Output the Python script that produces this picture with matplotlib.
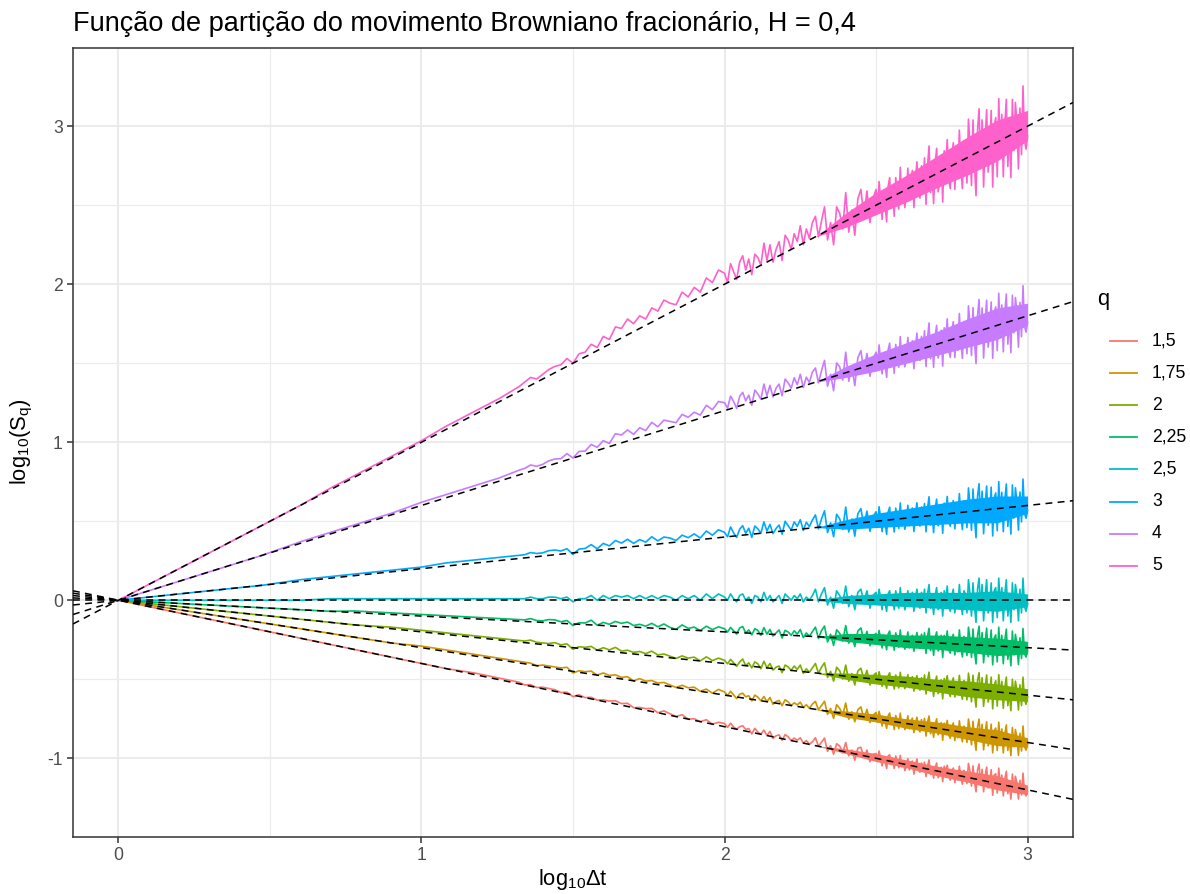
import numpy as np
import matplotlib
matplotlib.use("Agg")
import matplotlib.pyplot as plt
from matplotlib.lines import Line2D

plt.rcParams['font.family'] = ['Liberation Sans', 'DejaVu Sans']
plt.rcParams['mathtext.fontset'] = 'custom'
plt.rcParams['mathtext.rm'] = 'Liberation Sans'
plt.rcParams['mathtext.it'] = 'Liberation Sans:italic'
plt.rcParams['axes.unicode_minus'] = False

# ---------------------------------------------------------------------------
# Data: partition function log10(S_q) against log10(dt) for several moments q
# ---------------------------------------------------------------------------
q_labels = ["1,5", "1,75", "2", "2,25", "2,5", "3", "4", "5"]
q_colors = ["#F8766D", "#CD9600", "#7CAE00", "#00BE67",
            "#00BFC4", "#00A9FF", "#C77CFF", "#FF61CC"]
# fitted scaling exponents tau(q) (slopes of the dashed lines)
tau = [-0.4, -0.3, -0.2, -0.1, 0.0, 0.2, 0.6, 1.0]

# sampled lags: small integer lags, then progressively finer steps in log10(dt)
dt_early = [1, 2, 3, 4, 5, 6, 8, 10, 12, 15, 18, 21]
log_dt = np.concatenate([
    np.log10(dt_early),
    np.round(np.arange(1.34, 1.99, 0.02), 2),
    np.round(np.arange(2.00, 2.495, 0.01), 2),
    np.round(np.arange(2.50, 3.0025, 0.005), 3),
])

# deviations of log10(S_q) from the fitted line, in hundredths of a decade
r_q150 = [0, 0, 0, 0, 0, 0, 0, 0, 0, 1, 1, 1,
          0, 1, 0, 1, 1, 1, 0, 1, -1, 1, 0, 1, 0, 1, 1, 2, 1, 2, 0, 1,
          1, 2, 0, 2, 1, 0, 2, 0, 1, 0, 2, 0, 2,
          2, 0, 3, 1, 0, 2, 3, 1, 2, -1,
          3, 1, 0, 3, 0, 3, -1, 1, 2, -1,
          3, 2, 0, 2, 1, 3, 0, 2, 0, 2,
          5, 0, 3, 6, -2, 2, -3, 4, 3, -1,
          6, -2, 2, -4, 4, 5, -1, 4, -3, 2,
          3, -2, 5, 1, -4, 2, -1, -5, 3, 4,
          -2, 2, -4, 4, 1, -3, 5, -2, 2, -4,
          -1, 4, -3, 2, 3, -5, 1, 5, -2, -3,
          3, -1, 4, -5, 2, 6, -3, 1, -5, 2,
          5, -4, -2, 3, -6, 4, 1, 5, -2, -4,
          2, 4, -5, 1, -3, 6, -1, -5, 4, 2,
          -4, 9, 4, -5, 8, -2, -8, 6, 10, -3,
          7, -7, 3, 9, -4, -1, 8, -8, 5, 6,
          -6, 10, -2, 6, -7, 4, 9, -5, 2, -8,
          8, -3, 7, 3, -7, 5, -4, 10, -2, -4,
          -1]
r_q175 = [0, 0, 0, 0, 0, 0, 0, 1, 1, 1, 1, 1,
          1, 1, 0, 1, 1, 1, 1, 2, -1, 1, 1, 2, 0, 2, 1, 2, 1, 2, 0, 2,
          1, 2, 1, 2, 1, 0, 2, 1, 2, 0, 2, 0, 3,
          2, 0, 3, 1, -1, 2, 3, 1, 2, -1,
          3, 2, 0, 3, 0, 3, -1, 1, 2, -1,
          3, 2, 0, 2, 1, 3, 0, 2, 0, 3,
          5, 0, 3, 6, -2, 2, -4, 5, 3, -1,
          7, -3, 2, -4, 4, 6, -1, 5, -3, 2,
          4, -2, 5, 1, -4, 2, -1, -5, 3, 5,
          -2, 2, -5, 4, 1, -4, 6, -2, 2, -4,
          -1, 5, -3, 2, 4, -5, 1, 5, -2, -4,
          4, -1, 5, -6, 3, 7, -4, 1, -6, 2,
          6, -4, -2, 4, -7, 4, 1, 6, -3, -5,
          2, 5, -6, 1, -4, 7, -1, -6, 4, 3,
          -6, 9, 3, -7, 8, -3, -10, 5, 10, -4,
          7, -9, 2, 9, -6, -2, 8, -10, 4, 6,
          -8, 10, -3, 6, -9, 3, 9, -7, 1, -10,
          8, -4, 7, 2, -9, 5, -6, 10, -3, -5,
          -1]
r_q200 = [0, 0, 0, 0, 0, 0, 1, 1, 1, 1, 1, 1,
          1, 2, 1, 1, 1, 2, 1, 2, -1, 1, 1, 2, 0, 2, 1, 3, 1, 2, 1, 2,
          1, 3, 1, 2, 1, 0, 2, 1, 2, 0, 3, 1, 3,
          2, 0, 3, 1, -1, 2, 4, 0, 2, -1,
          3, 2, -1, 4, 0, 3, -1, 1, 2, -2,
          3, 2, 0, 3, 1, 4, -1, 2, 0, 3,
          6, 0, 4, 7, -2, 2, -4, 5, 3, -2,
          7, -3, 2, -5, 4, 6, -1, 5, -4, 2,
          4, -2, 5, 1, -4, 2, -1, -5, 3, 5,
          -2, 2, -5, 4, 1, -4, 6, -2, 2, -4,
          -1, 5, -3, 2, 4, -5, 1, 5, -2, -4,
          4, -1, 6, -6, 3, 8, -4, 2, -7, 2,
          6, -5, -2, 4, -8, 5, 1, 7, -3, -6,
          2, 6, -6, 2, -4, 8, -2, -7, 5, 3,
          -7, 10, 3, -8, 9, -3, -11, 6, 11, -4,
          8, -10, 2, 10, -7, -2, 9, -11, 4, 7,
          -9, 11, -3, 7, -10, 3, 10, -8, 1, -11,
          9, -4, 8, 2, -10, 6, -7, 11, -3, -6,
          -1]
r_q225 = [0, 0, 0, 0, 0, 1, 1, 1, 1, 1, 1, 1,
          1, 2, 1, 1, 2, 2, 1, 2, -1, 1, 1, 3, 0, 2, 1, 3, 2, 3, 1, 2,
          1, 3, 1, 3, 1, 0, 3, 1, 2, 0, 3, 1, 3,
          2, 0, 3, 1, -1, 3, 4, 0, 2, -1,
          3, 2, -1, 4, 0, 3, -1, 1, 3, -2,
          3, 2, 0, 3, 1, 4, -1, 2, 0, 3,
          6, -1, 4, 7, -3, 2, -5, 5, 3, -2,
          8, -3, 2, -5, 5, 7, -1, 5, -4, 2,
          4, -2, 6, 1, -5, 3, -1, -6, 4, 6,
          -3, 2, -6, 5, 1, -4, 7, -2, 3, -5,
          -1, 6, -4, 2, 4, -6, 1, 6, -3, -4,
          5, -1, 6, -7, 4, 9, -5, 2, -8, 3,
          7, -5, -3, 5, -9, 5, 1, 8, -4, -6,
          3, 6, -7, 2, -5, 9, -2, -8, 5, 4,
          -7, 11, 4, -8, 10, -4, -12, 6, 12, -5,
          8, -11, 2, 11, -7, -2, 10, -12, 5, 7,
          -10, 12, -4, 7, -11, 4, 11, -8, 1, -12,
          10, -5, 8, 2, -11, 6, -7, 12, -4, -6,
          -2]
r_q250 = [0, 0, 0, 0, 1, 1, 1, 1, 1, 1, 1, 1,
          1, 2, 1, 1, 2, 2, 1, 2, -1, 1, 1, 3, 0, 3, 1, 3, 2, 3, 1, 3,
          1, 3, 1, 3, 2, 0, 3, 1, 3, 0, 4, 1, 4,
          2, 0, 4, 1, -1, 3, 4, 0, 2, -2,
          3, 2, -1, 5, 0, 3, -1, 1, 3, -2,
          4, 2, 0, 3, 1, 4, -1, 2, 0, 3,
          7, -1, 4, 8, -3, 2, -5, 6, 3, -2,
          9, -4, 3, -6, 5, 7, -1, 6, -5, 3,
          5, -2, 7, 2, -6, 3, -2, -7, 4, 6,
          -3, 2, -6, 6, 1, -5, 8, -2, 3, -6,
          -2, 6, -4, 2, 5, -7, 2, 7, -3, -5,
          5, -1, 7, -8, 4, 10, -5, 2, -9, 3,
          8, -6, -3, 5, -10, 6, 1, 9, -4, -7,
          3, 7, -8, 2, -5, 10, -2, -9, 6, 4,
          -8, 13, 4, -10, 11, -4, -14, 7, 14, -6,
          10, -13, 3, 13, -8, -3, 11, -14, 6, 8,
          -11, 14, -4, 8, -13, 4, 13, -10, 1, -14,
          11, -6, 10, 3, -13, 7, -8, 14, -4, -7,
          -2]
r_q300 = [0, 0, 0, 1, 1, 1, 1, 1, 2, 2, 2, 2,
          2, 3, 2, 2, 3, 3, 2, 3, -1, 2, 2, 4, 1, 4, 2, 5, 3, 5, 2, 4,
          2, 5, 2, 4, 3, 1, 4, 2, 4, 1, 5, 2, 5,
          3, 0, 6, 2, -1, 4, 6, 1, 4, -2,
          5, 3, 0, 7, 1, 5, -1, 2, 4, -2,
          6, 3, 0, 5, 2, 6, -1, 4, 1, 5,
          8, -1, 5, 10, -4, 2, -7, 7, 4, -3,
          11, -5, 3, -8, 6, 9, -2, 7, -6, 3,
          6, -3, 9, 2, -7, 4, -2, -9, 5, 8,
          -4, 3, -8, 7, 1, -6, 10, -3, 4, -7,
          -2, 8, -5, 3, 6, -9, 2, 9, -4, -6,
          6, -1, 8, -10, 5, 12, -6, 2, -11, 4,
          10, -7, -4, 6, -12, 7, 1, 11, -5, -8,
          4, 8, -10, 2, -6, 12, -2, -11, 7, 5,
          -10, 15, 5, -12, 14, -5, -17, 9, 17, -7,
          12, -15, 3, 15, -10, -3, 14, -17, 7, 10,
          -14, 17, -5, 10, -15, 5, 15, -12, 2, -17,
          14, -7, 12, 3, -15, 9, -10, 17, -5, -8,
          -3]
r_q400 = [0, 0, 0, 1, 1, 1, 1, 2, 2, 2, 2, 3,
          3, 4, 2, 2, 3, 3, 2, 4, 0, 3, 2, 5, 2, 5, 2, 7, 5, 7, 3, 6,
          3, 7, 3, 6, 4, 2, 6, 3, 5, 2, 7, 3, 7,
          5, 1, 8, 4, -1, 6, 8, 2, 5, -2,
          7, 4, 0, 9, 1, 7, -1, 4, 6, -2,
          8, 5, 1, 7, 2, 8, -1, 5, 1, 7,
          9, -1, 6, 12, -5, 2, -9, 8, 5, -4,
          13, -6, 3, -10, 7, 11, -3, 8, -7, 3,
          7, -4, 11, 2, -8, 5, -2, -11, 6, 10,
          -5, 4, -10, 8, 1, -7, 12, -4, 5, -8,
          -2, 10, -6, 4, 7, -11, 2, 11, -5, -7,
          8, -2, 11, -12, 6, 15, -8, 3, -14, 5,
          12, -9, -5, 8, -15, 9, 2, 14, -6, -11,
          5, 11, -12, 3, -8, 15, -3, -14, 9, 6,
          -12, 18, 6, -14, 16, -6, -20, 10, 20, -8,
          14, -18, 4, 18, -12, -4, 16, -20, 8, 12,
          -16, 20, -6, 12, -18, 6, 18, -14, 2, -20,
          16, -8, 14, 4, -18, 10, -12, 20, -6, -10,
          -4]
r_q500 = [0, 0, 0, 0, 1, 1, 1, 1, 2, 2, 2, 3,
          4, 5, 2, 3, 4, 4, 3, 5, 0, 4, 3, 6, 2, 7, 3, 9, 6, 10, 5, 8,
          4, 9, 5, 10, 6, 3, 9, 4, 8, 3, 10, 5, 11,
          7, 0, 11, 5, -1, 9, 12, 2, 8, -3,
          9, 6, 0, 13, 1, 10, -2, 5, 9, -4,
          11, 7, 0, 9, 3, 12, -1, 8, 1, 10,
          13, -1, 8, 16, -6, 4, -11, 12, 7, -4,
          18, -8, 5, -12, 10, 15, -3, 12, -9, 5,
          10, -5, 14, 3, -11, 6, -3, -14, 8, 13,
          -6, 5, -13, 11, 2, -10, 16, -5, 6, -11,
          -3, 13, -8, 5, 10, -14, 3, 14, -6, -10,
          10, -2, 14, -16, 8, 20, -10, 4, -18, 6,
          16, -12, -6, 10, -20, 12, 2, 18, -8, -14,
          6, 14, -16, 4, -10, 20, -4, -18, 12, 8,
          -16, 24, 8, -19, 22, -8, -27, 14, 27, -11,
          19, -24, 5, 24, -16, -5, 22, -27, 11, 16,
          -22, 27, -8, 16, -24, 8, 24, -19, 3, -27,
          22, -11, 19, 5, -24, 14, -16, 27, -8, -14,
          -6]

# densely packed core of each band at large lags (lower / upper edge,
# hundredths of a decade from the fitted line)
core_x = [2.3, 2.4, 2.5, 2.6, 2.7, 2.8, 2.9, 3.0]
core_lo_q150 = [0, -1, -2, -2, -3, -3, -4, -3]
core_hi_q150 = [0, 2, 3, 3, 3, 4, 5, 3]
core_lo_q175 = [0, -2, -2, -3, -3, -4, -5, -3]
core_hi_q175 = [0, 2, 3, 3, 4, 4, 5, 3]
core_lo_q200 = [0, -2, -3, -3, -4, -5, -5, -4]
core_hi_q200 = [0, 2, 3, 4, 4, 5, 5, 4]
core_lo_q225 = [0, -2, -3, -4, -4, -5, -6, -4]
core_hi_q225 = [0, 3, 4, 4, 5, 5, 5, 4]
core_lo_q250 = [0, -2, -3, -4, -5, -6, -7, -4]
core_hi_q250 = [0, 3, 4, 5, 5, 5, 6, 4]
core_lo_q300 = [0, -3, -4, -5, -6, -7, -9, -5]
core_hi_q300 = [0, 3, 5, 6, 7, 8, 8, 6]
core_lo_q400 = [0, -3, -5, -6, -7, -8, -9, -6]
core_hi_q400 = [0, 4, 6, 7, 8, 10, 11, 8]
core_lo_q500 = [0, -4, -6, -8, -9, -11, -12, -9]
core_hi_q500 = [0, 5, 8, 9, 11, 13, 14, 10]

residuals = [r_q150, r_q175, r_q200, r_q225, r_q250, r_q300, r_q400, r_q500]
core_lo = [core_lo_q150, core_lo_q175, core_lo_q200, core_lo_q225,
           core_lo_q250, core_lo_q300, core_lo_q400, core_lo_q500]
core_hi = [core_hi_q150, core_hi_q175, core_hi_q200, core_hi_q225,
           core_hi_q250, core_hi_q300, core_hi_q400, core_hi_q500]
for r in residuals:
    assert len(r) == len(log_dt), (len(r), len(log_dt))

x_ticks = [0, 1, 2, 3]
y_ticks = [-1, 0, 1, 2, 3]
y_tick_labels = ["-1", "0", "1", "2", "3"]

# ---------------------------------------------------------------------------
# Figure
# ---------------------------------------------------------------------------
W, H = 1190, 894
fig = plt.figure(figsize=(W / 100, H / 100), dpi=100)
fig.patch.set_facecolor("white")
ax = fig.add_axes([73 / W, 1 - 836.5 / H, 1000 / W, 788.5 / H])

ax.set_xlim(-0.15, 3.15)
ax.set_ylim(-1.495, 3.495)

ax.set_xticks(x_ticks)
ax.set_xticklabels([str(v) for v in x_ticks])
ax.set_xticks([0.5, 1.5, 2.5], minor=True)
ax.set_yticks(y_ticks)
ax.set_yticklabels(y_tick_labels)
ax.set_yticks([-0.5, 0.5, 1.5, 2.5], minor=True)

ax.grid(which="major", color="#EBEBEB", lw=1.5)
ax.grid(which="minor", color="#EBEBEB", lw=0.8)
ax.set_axisbelow(True)

ax.tick_params(which="minor", length=0)
ax.tick_params(which="major", length=4, width=1.1, color="#333333",
               labelsize=12.7, labelcolor="#4D4D4D", pad=3.2)
for sp in ax.spines.values():
    sp.set_color("#333333")
    sp.set_linewidth(1.1)

# series
cx = np.asarray(core_x)
for t, r, lo, hi, c in zip(tau, residuals, core_lo, core_hi, q_colors):
    y = t * log_dt + np.asarray(r) / 100.0
    ax.fill_between(cx, t * cx + np.asarray(lo) / 100.0,
                    t * cx + np.asarray(hi) / 100.0,
                    color=c, lw=0, zorder=2)
    ax.plot(log_dt, y, color=c, lw=1.2, zorder=2)

# fitted power laws
for t in tau:
    ax.axline((0, 0), slope=t, color="black", lw=1.1,
              ls=(0, (4.5, 3.5)), zorder=3)

# titles
fig.text(73 / W, 1 - 31 / H,
         "Função de partição do movimento Browniano fracionário, H = 0,4",
         fontsize=19.5, ha="left", va="baseline", color="black")
fig.text(573 / W, 1 - 885 / H, r"log$_{\mathrm{10}}$Δt",
         fontsize=15.8, ha="center", va="baseline", color="black")
fig.text(22 / W, 1 - 442 / H, r"log$_{\mathrm{10}}$(S$_{\mathrm{q}}$)",
         fontsize=15.8, ha="center", va="center", rotation=90, color="black")

# legend
fig.text(1097 / W, 1 - 300 / H, "q", fontsize=15.8, ha="left", va="center")
for i, (lab, c) in enumerate(zip(q_labels, q_colors)):
    yy = 1 - (341 + 32.1 * i) / H
    fig.add_artist(Line2D([1110 / W, 1137 / W], [yy, yy], color=c, lw=1.3))
    fig.text(1152 / W, yy, lab, fontsize=12.7, ha="left", va="center",
             color="black")

fig.savefig("out.png", dpi=100)
